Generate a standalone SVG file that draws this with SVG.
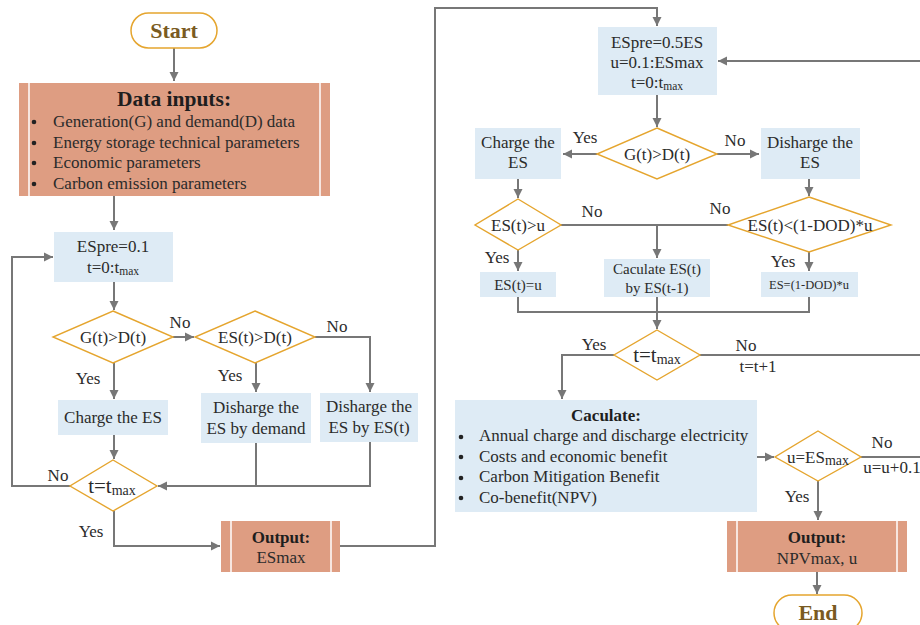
<svg xmlns="http://www.w3.org/2000/svg" width="920" height="625" viewBox="0 0 920 625">
<style>
text{font-family:"Liberation Serif","Times New Roman",serif;fill:#2b2b2b;font-size:17px}
.c{text-anchor:middle}
.b{font-weight:bold}
.blue{fill:#DEEBF5}
.sal{fill:#DE9D82}
.inner{stroke:#ffffff;stroke-width:1.5}
.dia{fill:#ffffff;stroke:#E5A52E;stroke-width:1.4}
.pill{fill:#ffffff;stroke:#E5A52E;stroke-width:1.5}
.ln{fill:none;stroke:#777777;stroke-width:2}
.ar{marker-end:url(#ah)}
.sub{font-size:11.5px}
.big{font-size:21px}
.sub2{font-size:14px}
</style>
<defs>
<marker id="ah" markerWidth="10" markerHeight="10" refX="9" refY="5" orient="auto" markerUnits="userSpaceOnUse">
<path d="M0,0.5 L9,5 L0,9.5 z" fill="#777777"/>
</marker>
</defs>

<g id="connectors">
<path class="ln ar" d="M174,48 V81"/>
<path class="ln ar" d="M114,196 V230"/>
<path class="ln ar" d="M114,282 V310"/>
<path class="ln ar" d="M173,337 H194"/>
<path class="ln ar" d="M315,337 H370 V392"/>
<path class="ln ar" d="M114,363 V399"/>
<path class="ln ar" d="M256,363 V392"/>
<path class="ln ar" d="M114,435 V459"/>
<path class="ln" d="M256,443 V486"/>
<path class="ln ar" d="M370,442 V486 H158"/>
<path class="ln ar" d="M70,486 H12 V257 H53"/>
<path class="ln ar" d="M114,511 V546 H220"/>
<path class="ln ar" d="M340,546 H435 V8 H657 V26"/>
<path class="ln ar" d="M920,61 H718"/>
<path class="ln ar" d="M657,95 V127"/>
<path class="ln ar" d="M597,154 H563"/>
<path class="ln ar" d="M717,154 H759"/>
<path class="ln ar" d="M518,179 V198"/>
<path class="ln ar" d="M809,179 V196"/>
<path class="ln" d="M561,225 H728"/>
<path class="ln ar" d="M657,225 V258"/>
<path class="ln ar" d="M518,250 V271"/>
<path class="ln ar" d="M809,252 V271"/>
<path class="ln" d="M518,297 V312 H809 V297"/>
<path class="ln ar" d="M657,297 V329"/>
<path class="ln ar" d="M614,355 H562 V399"/>
<path class="ln" d="M700,355 H920"/>
<path class="ln ar" d="M757,457 H774"/>
<path class="ln" d="M861,457 H920"/>
<path class="ln ar" d="M818,481 V520"/>
<path class="ln ar" d="M817,572 V594"/>
</g>

<g id="labels">
<text x="180" y="328" class="c">No</text>
<text x="337" y="332" class="c">No</text>
<text x="88" y="384" class="c">Yes</text>
<text x="230" y="381" class="c">Yes</text>
<text x="58" y="481" class="c">No</text>
<text x="91" y="537" class="c">Yes</text>
<text x="585" y="143" class="c">Yes</text>
<text x="735" y="146" class="c">No</text>
<text x="592" y="217" class="c">No</text>
<text x="720" y="214" class="c">No</text>
<text x="497" y="263" class="c">Yes</text>
<text x="783" y="267" class="c">Yes</text>
<text x="594" y="350" class="c">Yes</text>
<text x="746" y="351" class="c">No</text>
<text x="758" y="372" class="c">t=t+1</text>
<text x="882" y="448" class="c">No</text>
<text x="892" y="473" class="c">u=u+0.1</text>
<text x="797" y="502" class="c">Yes</text>
</g>

<g id="start">
<rect class="pill" x="131" y="13" width="86" height="35" rx="17.5"/>
<text x="174" y="38" class="c b" style="font-size:22px;fill:#7A5B22">Start</text>
</g>

<g id="data-inputs">
<rect class="sal" x="19" y="83" width="311" height="113"/>
<line class="inner" x1="29" y1="83" x2="29" y2="196"/>
<line class="inner" x1="320" y1="83" x2="320" y2="196"/>
<text x="174" y="106" class="c b" style="font-size:21.5px;fill:#1e1e1e">Data inputs:</text>
<circle cx="34" cy="122" r="2.3" fill="#222"/>
<circle cx="34" cy="143" r="2.3" fill="#222"/>
<circle cx="34" cy="163" r="2.3" fill="#222"/>
<circle cx="34" cy="184" r="2.3" fill="#222"/>
<text x="53" y="127">Generation(G) and demand(D) data</text>
<text x="53" y="148">Energy storage technical parameters</text>
<text x="53" y="168">Economic parameters</text>
<text x="53" y="189">Carbon emission parameters</text>
</g>

<g id="espre1">
<rect class="blue" x="54" y="232" width="119" height="50"/>
<text x="113" y="252" class="c">ESpre=0.1</text>
<text x="113" y="273" class="c">t=0:t<tspan class="sub" dy="2">max</tspan></text>
</g>

<g id="gd1">
<polygon class="dia" points="113,311 173,337 113,363 53,337"/>
<text x="113" y="343" class="c">G(t)&gt;D(t)</text>
</g>

<g id="esd1">
<polygon class="dia" points="255,311 315,337 255,363 195,337"/>
<text x="255" y="343" class="c">ES(t)&gt;D(t)</text>
</g>

<g id="charge1">
<rect class="blue" x="58" y="400" width="110" height="35"/>
<text x="113" y="423" class="c">Charge the ES</text>
</g>

<g id="dis-demand">
<rect class="blue" x="201" y="393" width="110" height="50"/>
<text x="256" y="413" class="c">Disharge the</text>
<text x="256" y="434" class="c">ES by demand</text>
</g>

<g id="dis-es">
<rect class="blue" x="320" y="393" width="98" height="49"/>
<text x="369" y="412" class="c">Disharge the</text>
<text x="369" y="433" class="c">ES by ES(t)</text>
</g>

<g id="tmax1">
<polygon class="dia" points="113,460 157,486 113,511 70,486"/>
<text x="112" y="493" class="c big">t=t<tspan class="sub2" dy="2">max</tspan></text>
</g>

<g id="output1">
<rect class="sal" x="221" y="521" width="119" height="51"/>
<line class="inner" x1="231" y1="521" x2="231" y2="572"/>
<line class="inner" x1="331" y1="521" x2="331" y2="572"/>
<text x="281" y="543" class="c b" style="fill:#1e1e1e">Output:</text>
<text x="281" y="563" class="c">ESmax</text>
</g>

<g id="espre2">
<rect class="blue" x="598" y="27" width="119" height="68"/>
<text x="657" y="48" class="c">ESpre=0.5ES</text>
<text x="657" y="68" class="c">u=0.1:ESmax</text>
<text x="657" y="88" class="c">t=0:t<tspan class="sub" dy="2">max</tspan></text>
</g>

<g id="gd2">
<polygon class="dia" points="657,128 717,154 657,179 597,154"/>
<text x="657" y="160" class="c">G(t)&gt;D(t)</text>
</g>

<g id="charge2">
<rect class="blue" x="475" y="128" width="86" height="51"/>
<text x="518" y="148" class="c">Charge the</text>
<text x="518" y="168" class="c">ES</text>
</g>

<g id="discharge2">
<rect class="blue" x="761" y="128" width="99" height="51"/>
<text x="810" y="148" class="c">Disharge the</text>
<text x="810" y="168" class="c">ES</text>
</g>

<g id="esu">
<polygon class="dia" points="518,199 561,225 518,250 475,225"/>
<text x="518" y="231" class="c">ES(t)&gt;u</text>
</g>

<g id="esdod">
<polygon class="dia" points="809,197 891,225 809,252 728,225"/>
<text x="810" y="231" class="c">ES(t)&lt;(1-DOD)*u</text>
</g>

<g id="esequ">
<rect class="blue" x="480" y="272" width="76" height="25"/>
<text x="518" y="290" class="c" style="font-size:15px">ES(t)=u</text>
</g>

<g id="calc-es">
<rect class="blue" x="604" y="259" width="106" height="38"/>
<text x="657" y="274" class="c" style="font-size:15px">Caculate ES(t)</text>
<text x="657" y="293" class="c" style="font-size:15px">by ES(t-1)</text>
</g>

<g id="esdodset">
<rect class="blue" x="761" y="272" width="97" height="25"/>
<text x="809" y="289" class="c" style="font-size:12.5px">ES=(1-DOD)*u</text>
</g>

<g id="tmax2">
<polygon class="dia" points="657,330 700,355 657,380 614,355"/>
<text x="657" y="362" class="c big">t=t<tspan class="sub2" dy="2">max</tspan></text>
</g>

<g id="caculate">
<rect class="blue" x="455" y="400" width="302" height="112"/>
<text x="606" y="421" class="c b" style="fill:#1e1e1e">Caculate:</text>
<circle cx="461" cy="437" r="2.3" fill="#222"/>
<circle cx="461" cy="457" r="2.3" fill="#222"/>
<circle cx="461" cy="478" r="2.3" fill="#222"/>
<circle cx="461" cy="498" r="2.3" fill="#222"/>
<text x="479" y="441">Annual charge and discharge electricity</text>
<text x="479" y="462">Costs and economic benefit</text>
<text x="479" y="482">Carbon Mitigation Benefit</text>
<text x="479" y="503">Co-benefit(NPV)</text>
</g>

<g id="uesmax">
<polygon class="dia" points="818,431 861,457 818,481 775,457"/>
<text x="818" y="463" class="c">u=ES<tspan class="sub2" dy="2">max</tspan></text>
</g>

<g id="output2">
<rect class="sal" x="727" y="521" width="180" height="51"/>
<line class="inner" x1="737" y1="521" x2="737" y2="572"/>
<line class="inner" x1="897" y1="521" x2="897" y2="572"/>
<text x="817" y="543" class="c b" style="fill:#1e1e1e">Output:</text>
<text x="817" y="564" class="c">NPVmax, u</text>
</g>

<g id="end">
<rect class="pill" x="774" y="595" width="88" height="36" rx="18"/>
<text x="818" y="620" class="c b" style="font-size:22px;fill:#7A5B22">End</text>
</g>
</svg>
